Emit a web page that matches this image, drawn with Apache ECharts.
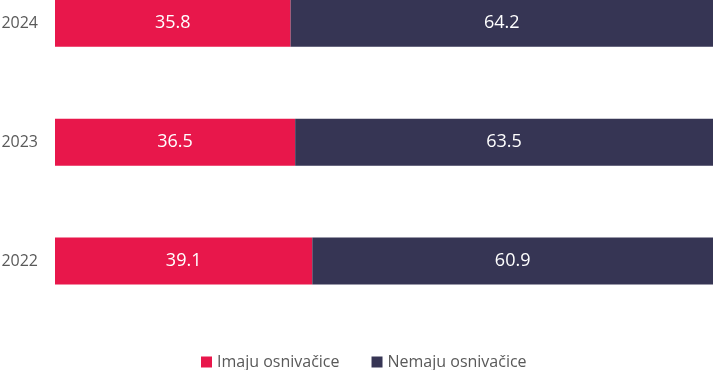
<!DOCTYPE html>
<html><head><meta charset="utf-8">
<script src="https://cdn.jsdelivr.net/npm/echarts@6/dist/echarts.min.js"></script>
<style>html,body{margin:0;padding:0;background:#fff}#c{width:713px;height:370px}</style>
</head><body><div id="c"></div>
<script>
const categories = ['2022', '2023', '2024'];
const imaju = [39.1, 36.5, 35.8];
const nemaju = [60.9, 63.5, 64.2];
const seriesNames = ['Imaju osnivačice', 'Nemaju osnivačice'];

const chart = echarts.init(document.getElementById('c'), null, {renderer: 'canvas'});
const font = '"Open Sans", "Noto Sans", sans-serif';
const label = {show: true, position: 'inside', color: '#ffffff', fontSize: 18, fontFamily: font,
  formatter: p => p.value.toFixed(1)};
chart.setOption({
  animation: false,
  textStyle: {fontFamily: font},
  grid: {left: 55, right: 0, top: 23.3, height: 237.7, containLabel: false, outerBoundsMode: 'none'},
  legend: {
    top: 349, left: 196, itemWidth: 11, itemHeight: 11, itemGap: 32, icon: 'rect',
    textStyle: {color: '#595959', fontSize: 16, fontFamily: font},
    data: seriesNames
  },
  xAxis: {type: 'value', min: 0, max: 100, show: false},
  yAxis: {type: 'category', data: categories, boundaryGap: false,
    axisLine: {show: false}, axisTick: {show: false}, splitLine: {show: false},
    axisLabel: {color: '#595959', fontSize: 16, fontFamily: font, margin: 17}},
  series: [
    {name: seriesNames[0], type: 'bar', stack: 's', data: imaju, barWidth: 47,
     itemStyle: {color: '#E8174B'}, label},
    {name: seriesNames[1], type: 'bar', stack: 's', data: nemaju, barWidth: 47,
     itemStyle: {color: '#363554'}, label}
  ]
});
</script></body></html>
